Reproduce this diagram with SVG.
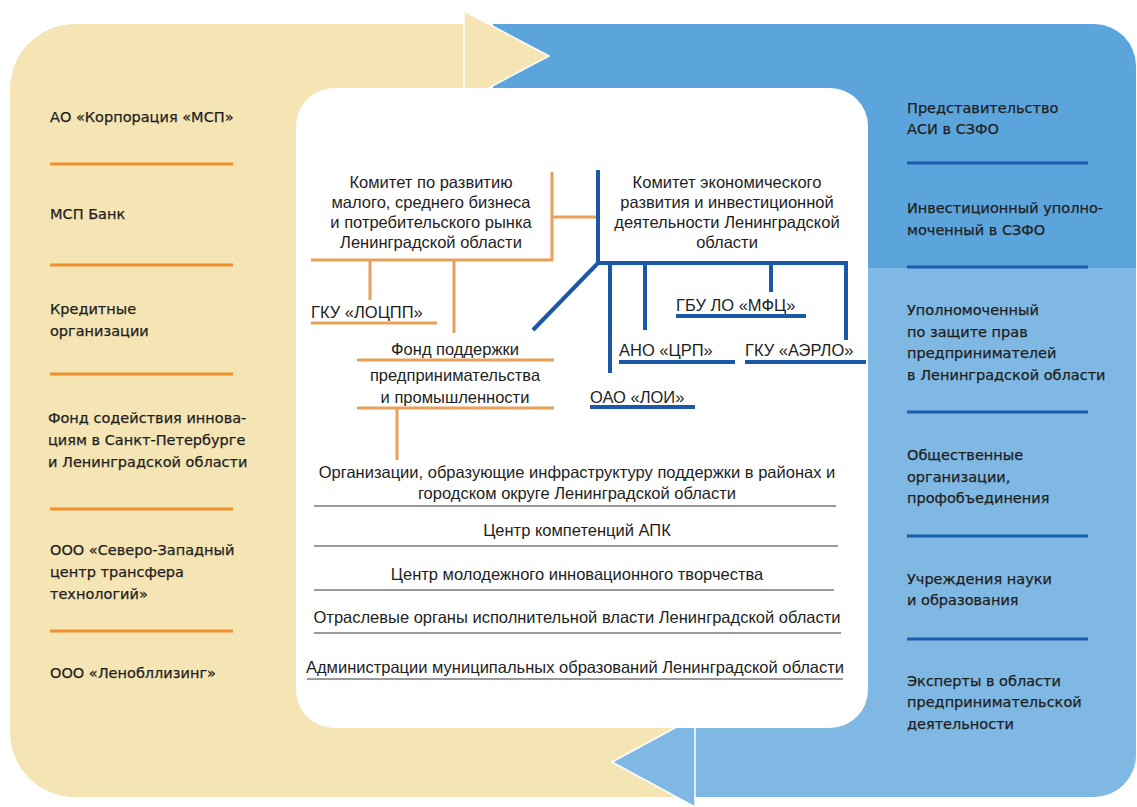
<svg xmlns="http://www.w3.org/2000/svg" width="1137" height="807" viewBox="0 0 1137 807">
<style>
.col{font-family:"DejaVu Sans","Liberation Sans",sans-serif;font-size:14.5px;fill:#1e1e1e;stroke:#1e1e1e;stroke-width:0.25}
.ctr{font-family:"Liberation Sans",Arial,sans-serif;font-size:16.5px;fill:#1e1e1e}
.mid{text-anchor:middle}
.ol{stroke:#f0902e;stroke-width:3;fill:none}
.bl{stroke:#1b5cae;stroke-width:3;fill:none}
.oc{stroke:#e9a05a;stroke-width:3;fill:none}
.bc{stroke:#1b58a8;stroke-width:4;fill:none}
.gl{stroke:#9a9a9a;stroke-width:2;fill:none}
</style>
<rect width="1137" height="807" fill="#ffffff"/>
<g id="background">
<path d="M493 24 H1094 A42 42 0 0 1 1136 66 V268 H493 Z" fill="#5ca4dc"/>
<path d="M695 268 H1136 V755 A42 42 0 0 1 1094 797 H695 Z" fill="#7fb8e3"/>
<path d="M75 24 H464 V300 H695 V797 H75 A65 65 0 0 1 10 732 V89 A65 65 0 0 1 75 24 Z" fill="#f5e4b4"/>
<polygon points="464,11 549,56 464,101" fill="#f5e4b4" stroke="#ffffff" stroke-width="1.5" stroke-linejoin="round"/>
<polygon points="695,717 612,762 695,807" fill="#7fb8e3" stroke="#ffffff" stroke-width="1.5" stroke-linejoin="round"/>
<rect x="296" y="88" width="572" height="640" rx="38" fill="#ffffff"/>
</g>
<g id="left-column">
<g id="l1"><text class="col" x="50" y="122">АО «Корпорация «МСП»</text></g>
<line class="ol" x1="50" y1="164" x2="233" y2="164"/>
<g id="l2"><text class="col" x="50" y="219">МСП Банк</text></g>
<line class="ol" x1="50" y1="265" x2="233" y2="265"/>
<g id="l3"><text class="col" x="50" y="314">Кредитные</text><text class="col" x="50" y="336">организации</text></g>
<line class="ol" x1="50" y1="374" x2="233" y2="374"/>
<g id="l4"><text class="col" x="48" y="423">Фонд содействия иннова-</text><text class="col" x="48" y="445">циям в Санкт-Петербурге</text><text class="col" x="48" y="467">и Ленинградской области</text></g>
<line class="ol" x1="50" y1="509" x2="233" y2="509"/>
<g id="l5"><text class="col" x="50" y="555">ООО «Северо-Западный</text><text class="col" x="50" y="577">центр трансфера</text><text class="col" x="50" y="599">технологий»</text></g>
<line class="ol" x1="50" y1="631" x2="233" y2="631"/>
<g id="l6"><text class="col" x="50" y="678">ООО «Ленобллизинг»</text></g>
</g>
<g id="right-column">
<g id="r1"><text class="col" x="907" y="113">Представительство</text><text class="col" x="907" y="134">АСИ в СЗФО</text></g>
<line class="bl" x1="907" y1="163" x2="1088" y2="163"/>
<g id="r2"><text class="col" x="907" y="213">Инвестиционный уполно-</text><text class="col" x="907" y="235">моченный в СЗФО</text></g>
<line class="bl" x1="907" y1="267" x2="1088" y2="267"/>
<g id="r3"><text class="col" x="907" y="315">Уполномоченный</text><text class="col" x="907" y="337">по защите прав</text><text class="col" x="907" y="358">предпринимателей</text><text class="col" x="907" y="380">в Ленинградской области</text></g>
<line class="bl" x1="907" y1="412" x2="1088" y2="412"/>
<g id="r4"><text class="col" x="907" y="460">Общественные</text><text class="col" x="907" y="482">организации,</text><text class="col" x="907" y="503">профобъединения</text></g>
<line class="bl" x1="907" y1="536" x2="1088" y2="536"/>
<g id="r5"><text class="col" x="907" y="584">Учреждения науки</text><text class="col" x="907" y="605">и образования</text></g>
<line class="bl" x1="907" y1="639" x2="1088" y2="639"/>
<g id="r6"><text class="col" x="907" y="686">Эксперты в области</text><text class="col" x="907" y="707">предпринимательской</text><text class="col" x="907" y="729">деятельности</text></g>
</g>
<g id="connectors">
<line class="oc" x1="552" y1="172" x2="552" y2="261"/>
<line class="oc" x1="552" y1="217" x2="598" y2="217"/>
<line class="oc" x1="311" y1="260" x2="553" y2="260"/>
<line class="oc" x1="370" y1="260" x2="370" y2="300"/>
<line class="oc" x1="454" y1="260" x2="454" y2="333"/>
<line class="oc" x1="397" y1="408" x2="397" y2="460"/>
<line class="bc" x1="598" y1="170" x2="598" y2="263"/>
<line class="bc" x1="596" y1="263" x2="848" y2="263"/>
<line class="bc" x1="598" y1="263" x2="533" y2="330"/>
<line class="bc" x1="610" y1="263" x2="610" y2="373"/>
<line class="bc" x1="645" y1="263" x2="645" y2="330"/>
<line class="bc" x1="771" y1="263" x2="771" y2="292"/>
<line class="bc" x1="846" y1="263" x2="846" y2="340"/>
</g>
<g id="committee-msb">
<text class="ctr mid" x="431" y="188">Комитет по развитию</text>
<text class="ctr mid" x="431" y="208">малого, среднего бизнеса</text>
<text class="ctr mid" x="431" y="228">и потребительского рынка</text>
<text class="ctr mid" x="431" y="248">Ленинградской области</text>
</g>
<g id="committee-econ">
<text class="ctr mid" x="727" y="188">Комитет экономического</text>
<text class="ctr mid" x="727" y="208">развития и инвестиционной</text>
<text class="ctr mid" x="727" y="228">деятельности Ленинградской</text>
<text class="ctr mid" x="727" y="248">области</text>
</g>
<g id="gku-locpp">
<text class="ctr" x="311" y="318">ГКУ «ЛОЦПП»</text>
<line class="oc" x1="311" y1="323" x2="437" y2="323"/>
</g>
<g id="fond">
<text class="ctr mid" x="455" y="355">Фонд поддержки</text>
<line class="oc" x1="357" y1="360" x2="554" y2="360"/>
<text class="ctr mid" x="455" y="381">предпринимательства</text>
<text class="ctr mid" x="455" y="403">и промышленности</text>
<line class="oc" x1="357" y1="408" x2="554" y2="408"/>
</g>
<g id="oao-loi">
<text class="ctr" x="590" y="403">ОАО «ЛОИ»</text>
<line class="bc" x1="590" y1="407" x2="695" y2="407"/>
</g>
<g id="ano-crp">
<text class="ctr" x="619" y="356">АНО «ЦРП»</text>
<line class="bc" x1="619" y1="362" x2="735" y2="362"/>
</g>
<g id="gbu-mfc">
<text class="ctr" x="676" y="311">ГБУ ЛО «МФЦ»</text>
<line class="bc" x1="676" y1="316" x2="806" y2="316"/>
</g>
<g id="gku-aerlo">
<text class="ctr" x="745" y="356">ГКУ «АЭРЛО»</text>
<line class="bc" x1="745" y1="362" x2="866" y2="362"/>
</g>
<g id="bottom-list">
<g id="b1"><text class="ctr mid" x="577" y="478">Организации, образующие инфраструктуру поддержки в районах и</text><text class="ctr mid" x="577" y="499">городском округе Ленинградской области</text><line class="gl" x1="314" y1="506" x2="836" y2="506"/></g>
<g id="b2"><text class="ctr mid" x="577" y="536">Центр компетенций АПК</text><line class="gl" x1="314" y1="546" x2="838" y2="546"/></g>
<g id="b3"><text class="ctr mid" x="577" y="580">Центр молодежного инновационного творчества</text><line class="gl" x1="314" y1="590" x2="834" y2="590"/></g>
<g id="b4"><text class="ctr mid" x="577" y="623">Отраслевые органы исполнительной власти Ленинградской области</text><line class="gl" x1="314" y1="633" x2="841" y2="633"/></g>
<g id="b5"><text class="ctr mid" x="575" y="673">Администрации муниципальных образований Ленинградской области</text><line class="gl" x1="307" y1="679" x2="843" y2="679"/></g>
</g>
</svg>
